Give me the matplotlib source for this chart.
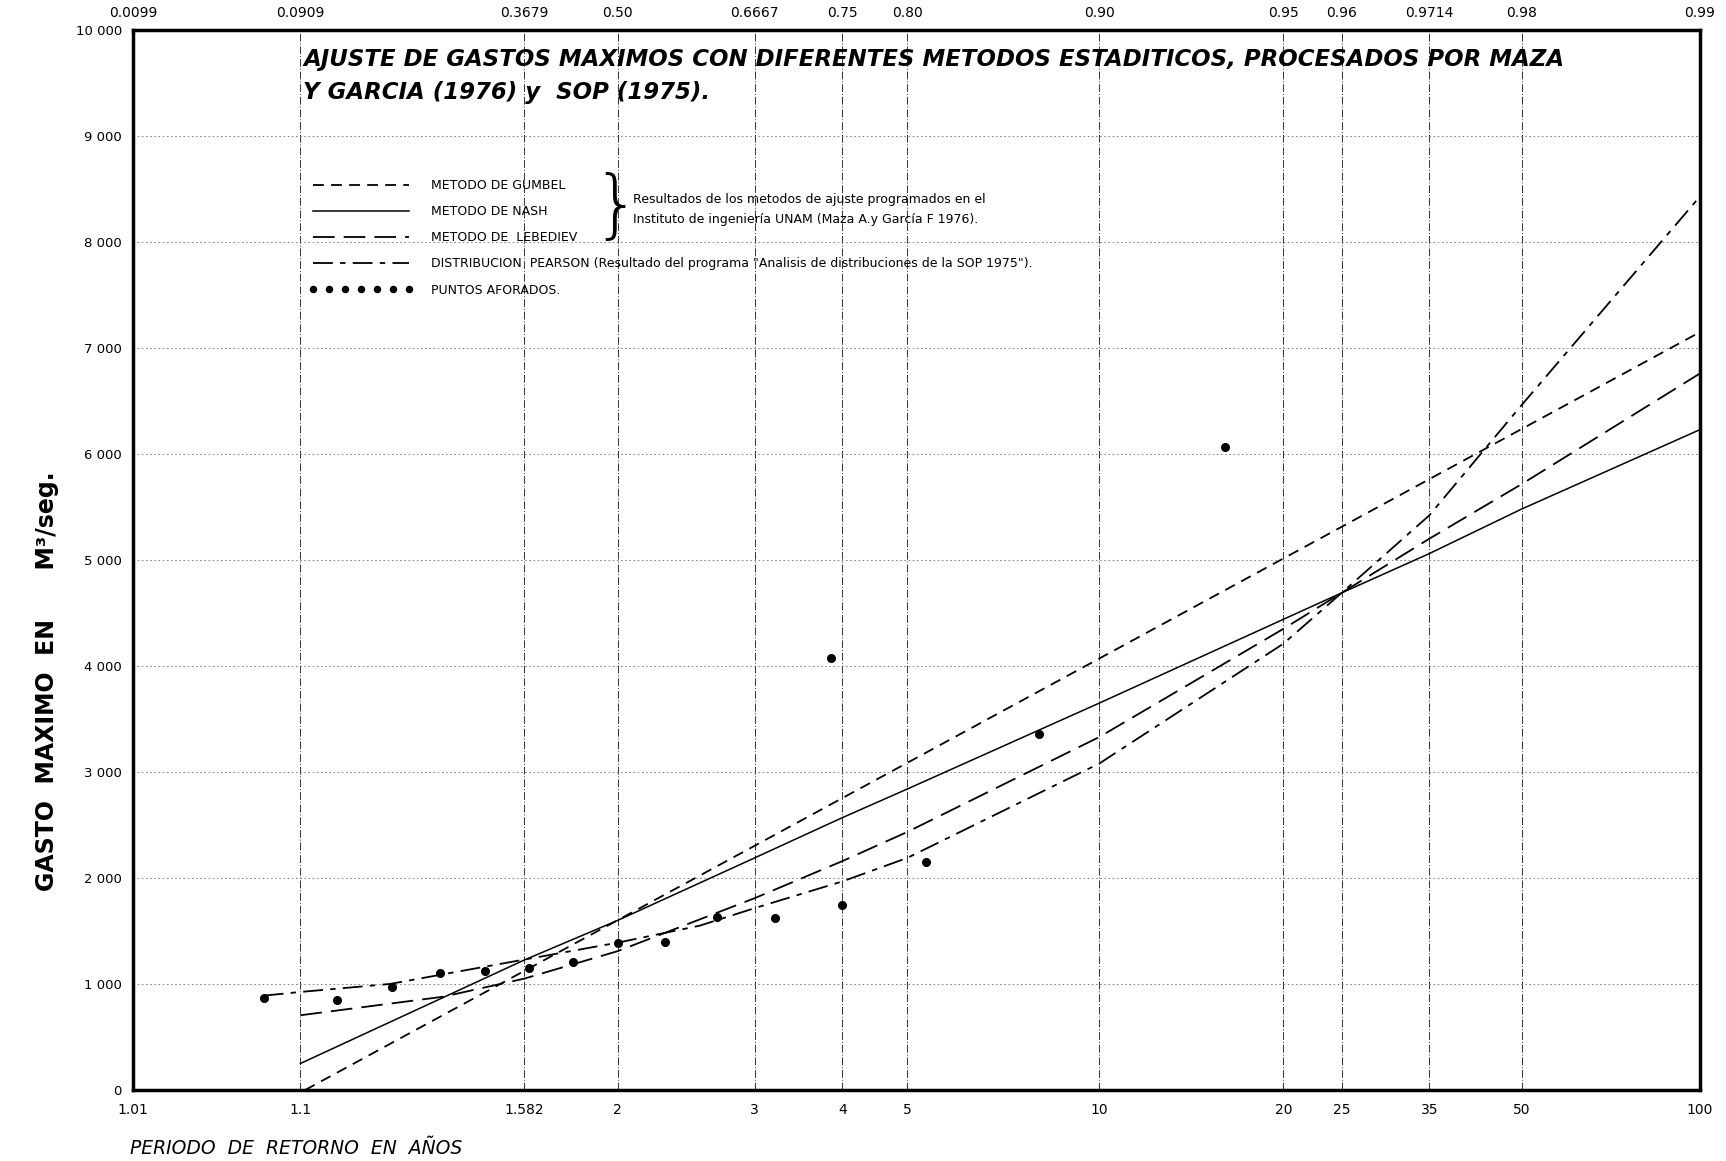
import numpy as np
import matplotlib
matplotlib.use("Agg")
from matplotlib import pyplot as plt

# periodos de retorno marcados en el papel de Gumbel (abajo) y su probabilidad (arriba)
t_ticks = [1.01, 1.1, 1.582, 2, 3, 4, 5, 10, 20, 25, 35, 50, 100]
t_labels = ["1.01", "1.1", "1.582", "2", "3", "4", "5", "10", "20", "25", "35", "50", "100"]
p_labels = ["0.0099", "0.0909", "0.3679", "0.50", "0.6667", "0.75", "0.80",
            "0.90", "0.95", "0.96", "0.9714", "0.98", "0.99"]
q_ticks = [0, 1000, 2000, 3000, 4000, 5000, 6000, 7000, 8000, 9000, 10000]
q_labels = ["0", "1 000", "2 000", "3 000", "4 000", "5 000", "6 000",
            "7 000", "8 000", "9 000", "10 000"]

# curvas ajustadas (T en anios, Q en m3/seg)
gumbel_t = [1.105, 100]
gumbel_q = [0, 7150]

nash_t = [1.1, 1.582, 2, 3, 4, 5, 10, 20, 25, 35, 50, 100]
nash_q = [250, 1225, 1600, 2190, 2570, 2840, 3650, 4440, 4690, 5060, 5480, 6230]

lebediev_t = [1.1, 1.34, 1.582, 2, 3, 4, 5, 10, 20, 25, 35, 50, 100]
lebediev_q = [705, 880, 1050, 1310, 1810, 2160, 2435, 3330, 4350, 4690, 5200, 5715, 6760]

pearson_t = [1.067, 1.1, 1.226, 1.582, 2, 2.53, 3, 4, 5, 10, 20, 25, 35, 50, 100]
pearson_q = [890, 925, 1000, 1230, 1390, 1550, 1716, 1968, 2190, 3080, 4210, 4690, 5420, 6460, 8430]

# puntos aforados
aforo_t = [16, 8, 5.33, 4, 3.2, 2.667, 2.286, 2, 1.778, 1.6, 1.455, 1.333, 1.231, 1.143, 1.067, 3.85]
aforo_q = [6069, 3361, 2155, 1750, 1620, 1635, 1400, 1385, 1203, 1152, 1124, 1105, 971, 848, 869, 4080]


def gumbel_fwd(t):
    t = np.clip(np.asarray(t, dtype=float), 1.000001, None)
    with np.errstate(all="ignore"):
        return -np.log(-np.log(1 - 1 / t))


def gumbel_inv(y):
    with np.errstate(all="ignore"):
        return 1 / (1 - np.exp(-np.exp(-np.asarray(y, dtype=float))))


fig = plt.figure(figsize=(17.26, 11.61), dpi=100)
ax = fig.add_axes([133 / 1726, 1 - 1090 / 1161, 1567 / 1726, 1060 / 1161])
ax.set_xscale("function", functions=(gumbel_fwd, gumbel_inv))
ax.set_xlim(1.01, 100)
ax.set_ylim(0, 10000)

ax.plot(gumbel_t, gumbel_q, color="black", lw=1.3, ls=(0, (6, 4)),
        label="METODO DE GUMBEL")
ax.plot(nash_t, nash_q, color="black", lw=1.1, ls="-",
        label="METODO DE NASH")
ax.plot(lebediev_t, lebediev_q, color="black", lw=1.3, ls=(0, (12, 5)),
        label="METODO DE  LEBEDIEV")
ax.plot(pearson_t, pearson_q, color="black", lw=1.3, ls=(0, (11, 4, 3, 4)),
        label='DISTRIBUCION  PEARSON (Resultado del programa "Analisis de distribuciones de la SOP 1975").')
ax.plot(aforo_t, aforo_q, "o", color="black", ms=5.5, label="PUNTOS AFORADOS.")

ax.set_xticks(t_ticks)
ax.set_xticklabels(t_labels, fontsize=10)
ax.xaxis.set_minor_locator(matplotlib.ticker.NullLocator())
ax.set_yticks(q_ticks)
ax.set_yticklabels(q_labels, fontsize=9.5)
ax.tick_params(length=0, pad=8)
ax.tick_params(axis="x", pad=9)

ax.grid(axis="x", color="0.2", lw=0.7, ls=(0, (8, 2, 1, 2)))
ax.grid(axis="y", color="0.45", lw=0.6, ls=(0, (2, 3)))
for s in ax.spines.values():
    s.set_linewidth(2.5)

top = ax.twiny()
top.set_xscale("function", functions=(gumbel_fwd, gumbel_inv))
top.set_xlim(ax.get_xlim())
top.set_xticks(t_ticks)
top.set_xticklabels(p_labels, fontsize=10)
top.xaxis.set_minor_locator(matplotlib.ticker.NullLocator())
top.tick_params(length=0, pad=7)

ax.text(0.1085, 0.983,
        "AJUSTE DE GASTOS MAXIMOS CON DIFERENTES METODOS ESTADITICOS, PROCESADOS POR MAZA\n"
        "Y GARCIA (1976) y  SOP (1975).",
        transform=ax.transAxes, ha="left", va="top", fontsize=16.5,
        style="italic", fontweight="bold", linespacing=1.55)

handles, labels = ax.get_legend_handles_labels()
ax.legend(handles, labels, loc="upper left", bbox_to_anchor=(0.105, 0.870),
          frameon=False, handlelength=8.3, numpoints=7, markerscale=0.8,
          labelspacing=1.05, fontsize=9, handletextpad=1.5)

ax.text(0.3085, 0.832, "}", transform=ax.transAxes, ha="center", va="center",
        fontsize=54, fontweight="light")
ax.text(0.319, 0.840, "Resultados de los metodos de ajuste programados en el",
        transform=ax.transAxes, ha="left", va="center", fontsize=9)
ax.text(0.319, 0.8215, "Instituto de ingeniería UNAM (Maza A.y García F 1976).",
        transform=ax.transAxes, ha="left", va="center", fontsize=9)

fig.text(47 / 1726, 0.413, "GASTO  MAXIMO  EN      M³/seg.", rotation=90,
         ha="center", va="center", fontsize=17, fontweight="bold")
fig.text(130 / 1726, 1 - 1149 / 1161, "PERIODO  DE  RETORNO  EN  AÑOS",
         ha="left", va="center", fontsize=13.5, style="italic")

fig.savefig("out.png", dpi=100)
